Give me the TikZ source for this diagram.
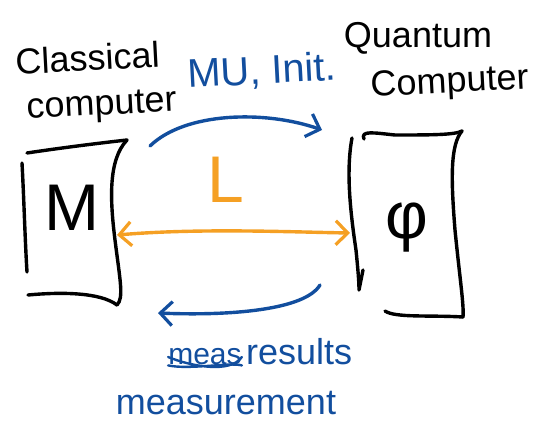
\documentclass[tikz,border=0pt]{standalone}
\usepackage{fontspec}
\setmainfont{Liberation Sans}
\usetikzlibrary{arrows.meta}
\definecolor{inkblue}{RGB}{18,78,158}
\definecolor{inkorange}{RGB}{245,160,36}
\begin{document}
\begin{tikzpicture}[x=1pt,y=-1pt,
  pen/.style={line width=3.4pt,line cap=round,line join=round},
  blackpen/.style={pen,draw=black},
  bluepen/.style={pen,draw=inkblue},
  orangepen/.style={pen,draw=inkorange},
  barb/.tip={Straight Barb[length=12pt,width=24pt,line width=3.2pt]},
  hand/.style={inner sep=0pt,font=\fontsize{36}{38}\selectfont},
  bighand/.style={inner sep=0pt,font=\fontsize{66}{68}\selectfont}]
\useasboundingbox (0,0) rectangle (560,423);
% labels
\node[hand,rotate=3] (cl1) at (88,58) {Classical};
\node[hand,rotate=3] (cl2) at (102,107) {computer};
\node[hand,text=inkblue,rotate=3,font=\fontsize{40}{42}\selectfont] (mu) at (262,72) {MU, Init.};
\node[hand] (qu1) at (418,38) {Quantum};
\node[hand,rotate=3] (qu2) at (450,84) {Computer};
% boxes (invisible anchors)
\node[minimum width=96pt,minimum height=160pt,inner sep=0pt] (boxL) at (70,222) {};
\node[minimum width=110pt,minimum height=180pt,inner sep=0pt] (boxR) at (407,225) {};
\node[bighand] (m) at (72,208) {M};
\node[bighand] (phi) at (407,228) {φ};
% left box strokes
\draw[blackpen] (27,153) .. controls (60,148) and (100,143) .. (127,140);
\draw[blackpen] (22,163) .. controls (24,200) and (25,240) .. (27,272);
\draw[blackpen] (127,140) .. controls (108,160) and (110,200) .. (115,240) .. controls (120,280) and (124,298) .. (117,305);
\draw[blackpen] (28,295) .. controls (60,292) and (100,292) .. (117,305);
% right box strokes
\draw[blackpen] (364,139) .. controls (360,130) and (375,133) .. (395,135) .. controls (430,135) and (455,135) .. (462,131);
\draw[blackpen] (352,138) .. controls (346,170) and (350,210) .. (356,250) .. controls (358,270) and (359,282) .. (359,290) -- (363,270);
\draw[blackpen] (462,131) .. controls (450,145) and (451,180) .. (455,230) .. controls (460,280) and (464,305) .. (463,317);
\draw[blackpen] (385,311) .. controls (395,318) and (430,315) .. (463,317);
% connectors
\coordinate (t1) at (150,146);
\coordinate (t2) at (322,130);
\draw[bluepen,-{barb}] (t1) .. controls (185,112) and (265,110) .. (t2);
\coordinate (b1) at (320,285);
\coordinate (b2) at (158,313);
\draw[bluepen,-{barb}] (b1) .. controls (305,310) and (230,316) .. (b2);
\coordinate (oL) at (117,235);
\coordinate (oR) at (350,233);
\draw[orangepen,{barb}-{barb}] (oL) .. controls (200,228) and (290,232) .. (oR);
\node[bighand,text=inkorange] (L) at (226,180) {L};
% bottom labels
\node[hand,text=inkblue,anchor=west] (res) at (246,352) {results};
\node[inner sep=0pt,text=inkblue,font=\fontsize{30}{32}\selectfont] (meas) at (205,357) {meas};
\draw[bluepen,line width=2.4pt] (meas.south west) .. controls (190,370) and (230,362) .. (meas.south east)
  (meas.west) .. controls (190,366) and (230,374) .. (meas.east);
\node[hand,text=inkblue] (msr) at (226,403) {measurement};
\end{tikzpicture}
\end{document}
